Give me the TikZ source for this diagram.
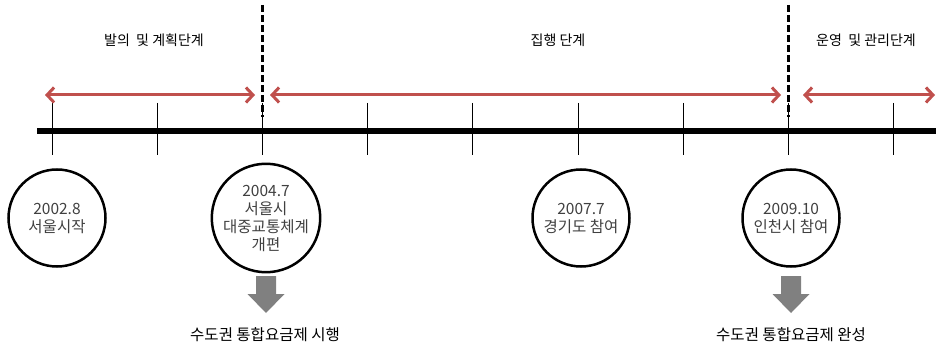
\documentclass[tikz,border=0pt]{standalone}
\usepackage{fontspec}
\setmainfont{Noto Sans CJK KR}
\usetikzlibrary{arrows.meta}
\definecolor{spanred}{RGB}{192,80,77}
\definecolor{eventtext}{RGB}{64,64,64}
\tikzstyle{event}=[draw,circle,line width=2.5pt,minimum size=97pt,inner sep=0pt,align=center,text=eventtext,font=\fontsize{15.5}{18}\selectfont]
\tikzstyle{phase}=[font=\fontsize{14}{16}\selectfont]
\tikzstyle{span}=[draw=spanred,line width=3pt,{Straight Barb[length=7pt,width=15pt]}-{Straight Barb[length=7pt,width=15pt]}]
\tikzstyle{divider}=[line width=3pt,dash pattern=on 7pt off 3pt]
\tikzstyle{tickmark}=[line width=0.8pt]
\tikzstyle{push}=[fill=gray]
\tikzstyle{result}=[font=\fontsize{15.5}{18}\selectfont]

\begin{document}
\begin{tikzpicture}[x=1pt,y=-1pt]
\useasboundingbox (0,0) rectangle (936,347);
% time axis
\coordinate (axisL) at (37,131);
\coordinate (axisR) at (936,131);
\draw[line width=6pt] (axisL) -- (axisR);
\foreach \t in {52,157,262,367,472,578,683,788,893}
    \draw[tickmark] (\t,103) -- (\t,155);
% phase borders
\coordinate (d1top) at (262,5);
\coordinate (d1bot) at (262,117);
\coordinate (d2top) at (788,5);
\coordinate (d2bot) at (788,117);
\draw[divider] (d1top) -- (d1bot);
\draw[divider] (d2top) -- (d2bot);
% phases
\node[phase] (plan) at (154,40) {발의 \ 및 계획단계};
\node[phase] (exec) at (558,40) {집행 단계};
\node[phase] (oper) at (866,40) {운영 \ 및 관리단계};
\coordinate (s1a) at (45,95);
\coordinate (s1b) at (255,95);
\coordinate (s2a) at (270,95);
\coordinate (s2b) at (781,95);
\coordinate (s3a) at (803,95);
\coordinate (s3b) at (935,95);
\draw[span] (s1a) -- (s1b);
\draw[span] (s2a) -- (s2b);
\draw[span] (s3a) -- (s3b);
% events
\node[event] (e2002) at (57,218) {2002.8\\서울시작};
\node[event] (e2004) at (266,218) {2004.7\\서울시\\대중교통체계\\개편};
\node[event] (e2007) at (581,218) {2007.7\\경기도 참여};
\node[event] (e2009) at (791,218) {2009.10\\인천시 참여};
% results
\coordinate (a2004) at (266,276);
\coordinate (a2009) at (791,276);
\foreach \a in {a2004,a2009}
    \fill[push] (\a) ++(-10,0) -- ++(20,0) -- ++(0,18) -- ++(8.5,0)
        -- ++(-18.5,19) -- ++(-18.5,-19) -- ++(8.5,0) -- cycle;
\node[result] (r2004) at (265,335) {수도권 통합요금제 시행};
\node[result] (r2009) at (791,335) {수도권 통합요금제 완성};
\end{tikzpicture}
\end{document}
